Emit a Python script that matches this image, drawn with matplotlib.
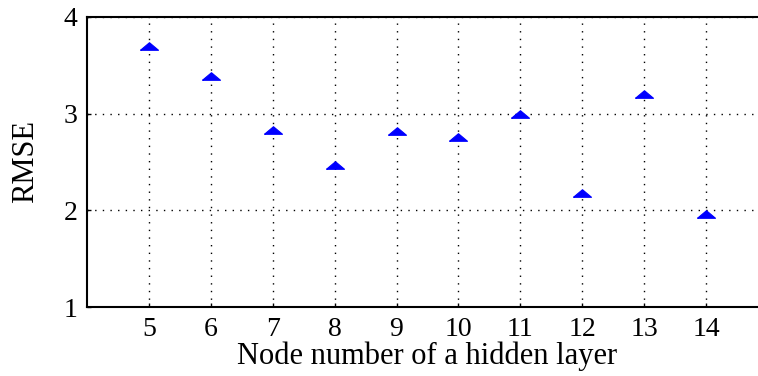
import numpy as np
import matplotlib.pyplot as plt

# valeurs
nodes = [5, 6, 7, 8, 9, 10, 11, 12, 13, 14]
rmse = [3.70, 3.39, 2.83, 2.47, 2.82, 2.76, 3.00, 2.18, 3.20, 1.96]
y_ticks = [1, 2, 3, 4]

plt.rcParams['font.family'] = ['Liberation Serif', 'DejaVu Serif']

fig = plt.figure(figsize=(7.58, 3.76), dpi=100)
ax = fig.add_axes([0.1148, 0.1835, 0.8984, 0.7713])

# triangle aplati comme dans la figure d'origine
tri = [(-1, -0.42), (1, -0.42), (0, 0.42), (-1, -0.42)]
ax.plot(nodes, rmse, linestyle='none', marker=tri, markersize=13,
        color='#0000ff', markeredgewidth=0.8, markeredgecolor='#0000ff')

ax.set_xlim(4, 15)
ax.set_ylim(1, 4)
ax.set_xticks(nodes)
ax.set_yticks(y_ticks)
ax.grid(True, color='black', linestyle=(0, (1, 4.5)), linewidth=1)
ax.tick_params(direction='in', length=3, labelsize=20, width=1, pad=7)
for s in ax.spines.values():
    s.set_linewidth(1.5)

ax.set_xlabel("Node number of a hidden layer", fontsize=22, labelpad=0)
ax.set_ylabel("RMSE", fontsize=22, labelpad=17)

fig.savefig("out.png", dpi=100)
